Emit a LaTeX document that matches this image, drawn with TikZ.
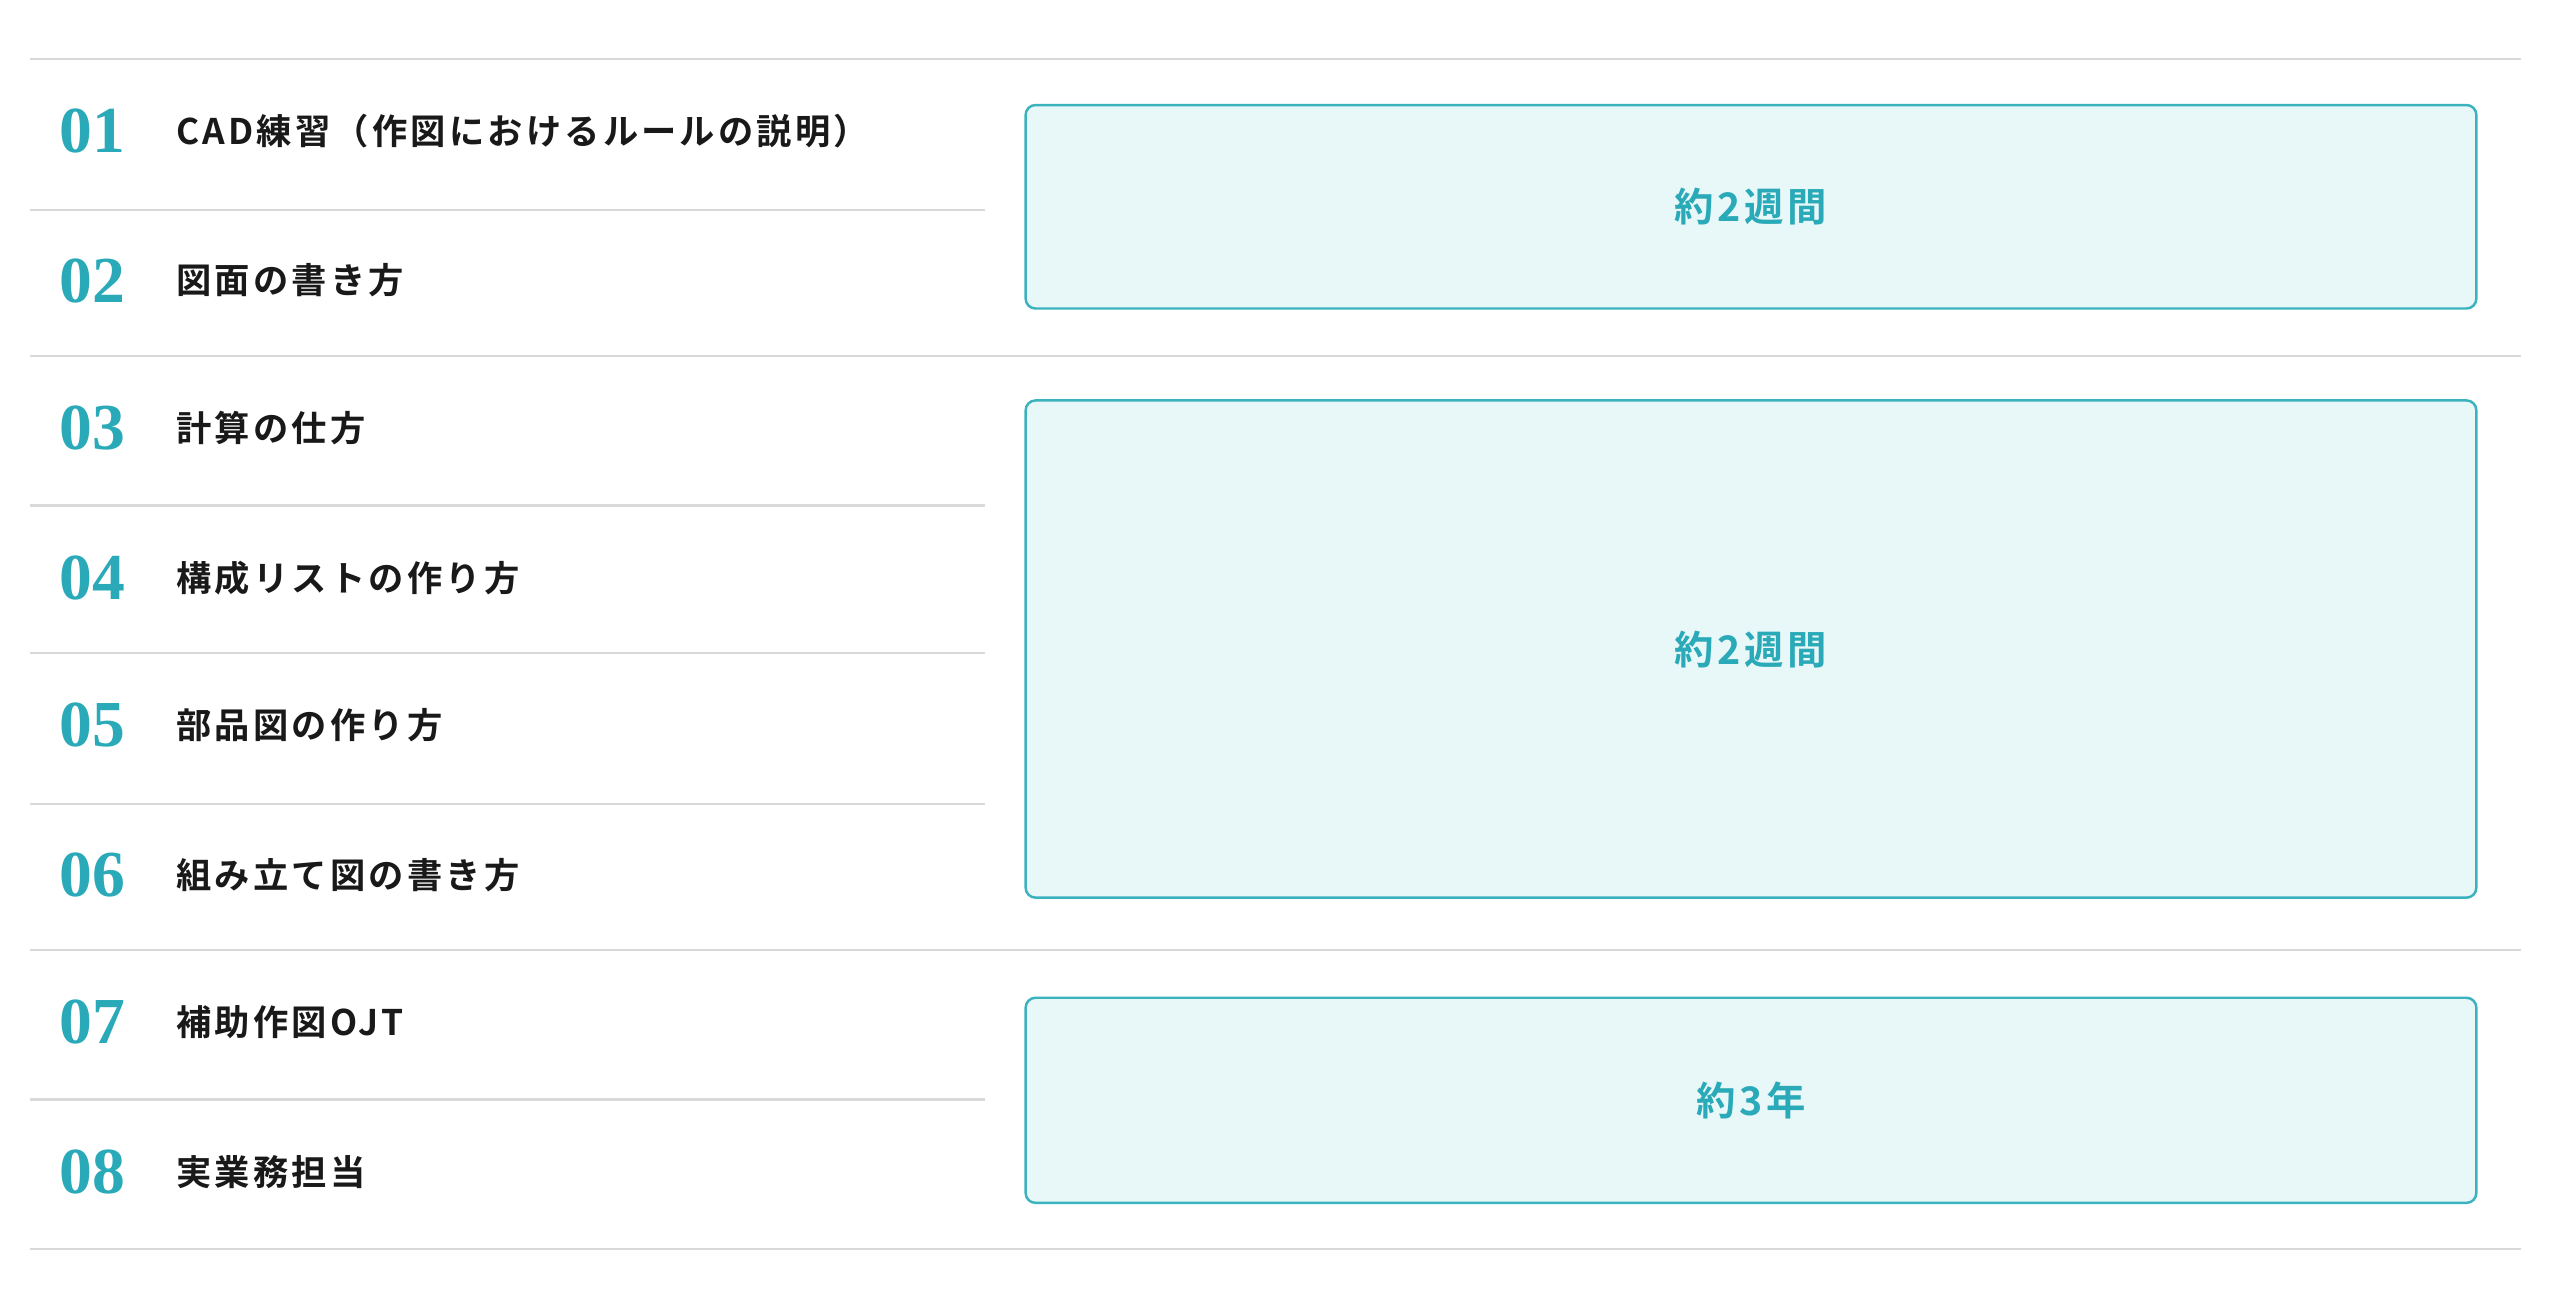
\documentclass[tikz,border=0pt]{standalone}
\usepackage{fontspec}
\newfontfamily\jp{Noto Sans CJK JP}[BoldFont={* Bold},LetterSpace=9]
\newfontfamily\numf{Liberation Serif}
\definecolor{teal1}{HTML}{2AAAB8}
\definecolor{boxfill}{HTML}{E8F7F8}
\definecolor{boxline}{HTML}{3AB3BF}
\definecolor{rule}{HTML}{D9D9D9}
\begin{document}
\begin{tikzpicture}[x=1pt,y=-1pt,
  sep/.style={draw=rule,line width=1.3pt},
  num/.style={anchor=west,text=teal1,font=\numf\bfseries\fontsize{40}{40}\selectfont},
  lbl/.style={anchor=west,text=black!90,font=\jp\bfseries\fontsize{21.5}{21.5}\selectfont},
  period/.style={draw=boxline,fill=boxfill,line width=1.5pt,rounded corners=6pt},
  plbl/.style={text=teal1,font=\jp\bfseries\fontsize{24}{24}\selectfont}]
\useasboundingbox (0,0) rectangle (1560,800);
\foreach \y in {36,217,579,761} \draw[sep] (18,\y) -- (1536,\y);
\foreach \y in {128,308,398,490,670} \draw[sep] (18,\y) -- (600,\y);
\foreach \n/\y/\t in {01/80/CAD練習（作図におけるルールの説明）,02/171/図面の書き方,03/261/計算の仕方,04/352/構成リストの作り方,05/442/部品図の作り方,06/533/組み立て図の書き方,07/623/補助作図OJT,08/714/実業務担当}{
  \node[num] (n\n) at (33,\y) {\n};
  \node[lbl] (t\n) at (104,\y) {\t};
}
\node[period,minimum width=884pt,minimum height=124pt] (b1) at (1067,126) {};
\node[plbl] (l1) at (b1) {約2週間};
\node[period,minimum width=884pt,minimum height=303pt] (b2) at (1067,395.5) {};
\node[plbl] (l2) at (b2) {約2週間};
\node[period,minimum width=884pt,minimum height=125pt] (b3) at (1067,670.5) {};
\node[plbl] (l3) at (b3) {約3年};
\end{tikzpicture}
\end{document}
